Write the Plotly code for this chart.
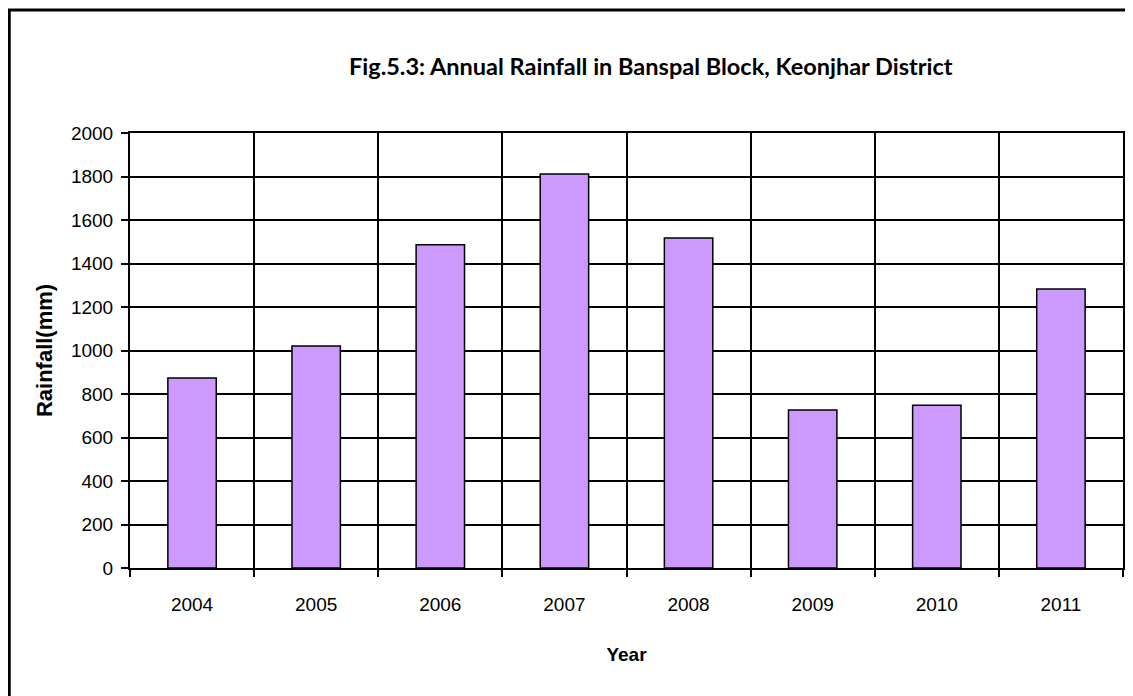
import plotly.graph_objects as go

years = ["2004", "2005", "2006", "2007", "2008", "2009", "2010", "2011"]
rainfall = [873, 1021, 1486, 1811, 1517, 726, 748, 1283]

fig = go.Figure()
fig.add_trace(go.Bar(
    x=years, y=rainfall,
    marker=dict(color="#CC99FF", line=dict(color="black", width=1.5)),
    width=0.39,
))

# page is offset by the 8px body margin
OFF = 8
W, H = 1133 - OFF, 696 - OFF
L, T = 130 - OFF, 133 - OFF
R = 8
B = H - T - 435
pw = W - L - R
ph = H - T - B

def px2paper_x(px):
    return (px - OFF - L) / pw

def px2paper_y(py):
    return (H - B - (py - OFF)) / ph

fig.update_layout(
    width=W, height=H,
    margin=dict(l=L, r=R, t=T, b=B),
    paper_bgcolor="white", plot_bgcolor="white",
    showlegend=False,
    font=dict(family="Liberation Sans, Arial", size=19, color="black"),
    xaxis=dict(
        type="category",
        tickson="boundaries",
        showgrid=True, gridcolor="black", gridwidth=2,
        showline=True, linecolor="black", linewidth=2, mirror=True,
        ticks="outside", ticklen=7, tickcolor="black", tickwidth=1.5,
        ticklabelstandoff=18,
        tickfont=dict(size=19, family="Liberation Sans, Arial"),
        title=dict(text="<b>Year</b>", font=dict(size=19, family="Liberation Sans, Arial"), standoff=34),
    ),
    yaxis=dict(
        range=[0, 2000], dtick=200,
        showgrid=True, gridcolor="black", gridwidth=2,
        showline=True, linecolor="black", linewidth=2, mirror=True,
        ticks="outside", ticklen=7, tickcolor="black", tickwidth=1.5,
        ticklabelstandoff=4,
        tickfont=dict(size=19, family="Liberation Sans, Arial"),
        title=dict(text="<b>Rainfall(mm)</b>", font=dict(size=22, family="Liberation Sans, Arial"), standoff=12),
        zeroline=False,
    ),
    annotations=[dict(
        text="<b>Fig.5.3: Annual Rainfall in Banspal Block, Keonjhar District</b>",
        xref="paper", yref="paper",
        x=px2paper_x(652), y=px2paper_y(66),
        xanchor="center", yanchor="middle",
        showarrow=False,
        font=dict(family="Lato, Open Sans", size=23.5, color="black"),
    )],
    shapes=[dict(
        type="rect", xref="paper", yref="paper",
        x0=px2paper_x(9), x1=px2paper_x(1150),
        y0=px2paper_y(720), y1=px2paper_y(10),
        line=dict(color="black", width=3), layer="below",
    )],
)

fig.write_html("out.html")
